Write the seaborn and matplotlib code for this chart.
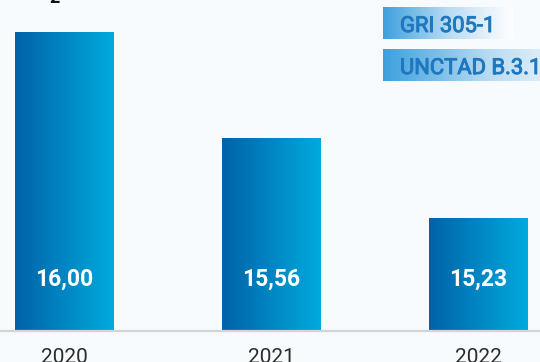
import numpy as np
import pandas as pd
import matplotlib
matplotlib.use("Agg")
import matplotlib.pyplot as plt
import matplotlib.patheffects as pe
from matplotlib.colors import LinearSegmentedColormap
import seaborn as sns

years = ["2020", "2021", "2022"]
values = [16.00, 15.56, 15.23]
value_labels = ["16,00", "15,56", "15,23"]
badges = ["GRI 305-1", "UNCTAD B.3.1."]

BG = "#f7fbfd"
sns.set_theme(style="white")
plt.rcParams["font.family"] = ["Roboto", "DejaVu Sans"]

W, H = 540, 362
fig = plt.figure(figsize=(W / 100, H / 100), dpi=100, facecolor=BG)
ax = fig.add_axes([0, 31 / H, 1, 1 - 31 / H], facecolor=BG)

df = pd.DataFrame({"year": years, "value": values})
sns.barplot(data=df, x="year", y="value", ax=ax, width=0.476,
            color="#0080c0", saturation=1, errorbar=None)

ymin, ymax = 14.76, 16.135
xlim = (-0.312, 2.300)

bar_cmap = LinearSegmentedColormap.from_list("bar", ["#0062a8", "#00aadd"])
grad = np.linspace(0, 1, 256).reshape(1, -1)
for patch, val, lab in zip(ax.patches, values, value_labels):
    x0 = patch.get_x()
    w = patch.get_width()
    im = ax.imshow(grad, cmap=bar_cmap, aspect="auto",
                   extent=[x0, x0 + w, ymin, val], zorder=3)
    im.set_clip_path(patch)
    patch.set_alpha(0)
    ax.text(x0 + w / 2, 0.155, lab, transform=ax.get_xaxis_transform(),
            ha="center", va="center", color="white", fontsize=16.5,
            fontweight="bold", zorder=4)

ax.set_xlim(*xlim)
ax.set_ylim(ymin, ymax)
ax.set_xlabel("")
ax.set_ylabel("")
ax.set_yticks([])
for s in ["top", "right", "left"]:
    ax.spines[s].set_visible(False)
ax.spines["bottom"].set_color("#d2d4d6")
ax.spines["bottom"].set_linewidth(1.6)
ax.spines["bottom"].set_zorder(5)
ax.tick_params(axis="x", length=0, pad=12, labelsize=15, labelcolor="#2b2b2b")

# subscript of the heading above the plot
fig.text(55 / W, 1 - 7 / H, "2", ha="center", va="bottom", fontsize=13,
         fontweight="bold", color="#111111")

# reference badges with a fading gradient
badge_cmap = LinearSegmentedColormap.from_list(
    "badge", [(0.24, 0.63, 0.87, 1.0), (0.72, 0.86, 0.95, 1.0), (1, 1, 1, 0.9)])
boxes = [(383, 7, 130, 32, 1.0), (383, 49, 180, 32, 0.85)]
for (bx, by, bw, bh, frac), txt in zip(boxes, badges):
    bax = fig.add_axes([bx / W, 1 - (by + bh) / H, bw / W, bh / H])
    g = np.linspace(0, frac, 256).reshape(1, -1)
    bax.imshow(g, cmap=badge_cmap, aspect="auto", extent=[0, 1, 0, 1], vmin=0, vmax=1)
    bax.set_xlim(0, 1)
    bax.set_ylim(0, 1)
    bax.axis("off")
    fig.text((bx + 17) / W, 1 - (by + bh / 2 + 1) / H, txt, ha="left", va="center_baseline",
             fontsize=15.8, fontweight="normal", color="#1f78bf",
             path_effects=[pe.withStroke(linewidth=0.7, foreground="#1f78bf")])

fig.savefig("out.png", dpi=100, facecolor=BG)
